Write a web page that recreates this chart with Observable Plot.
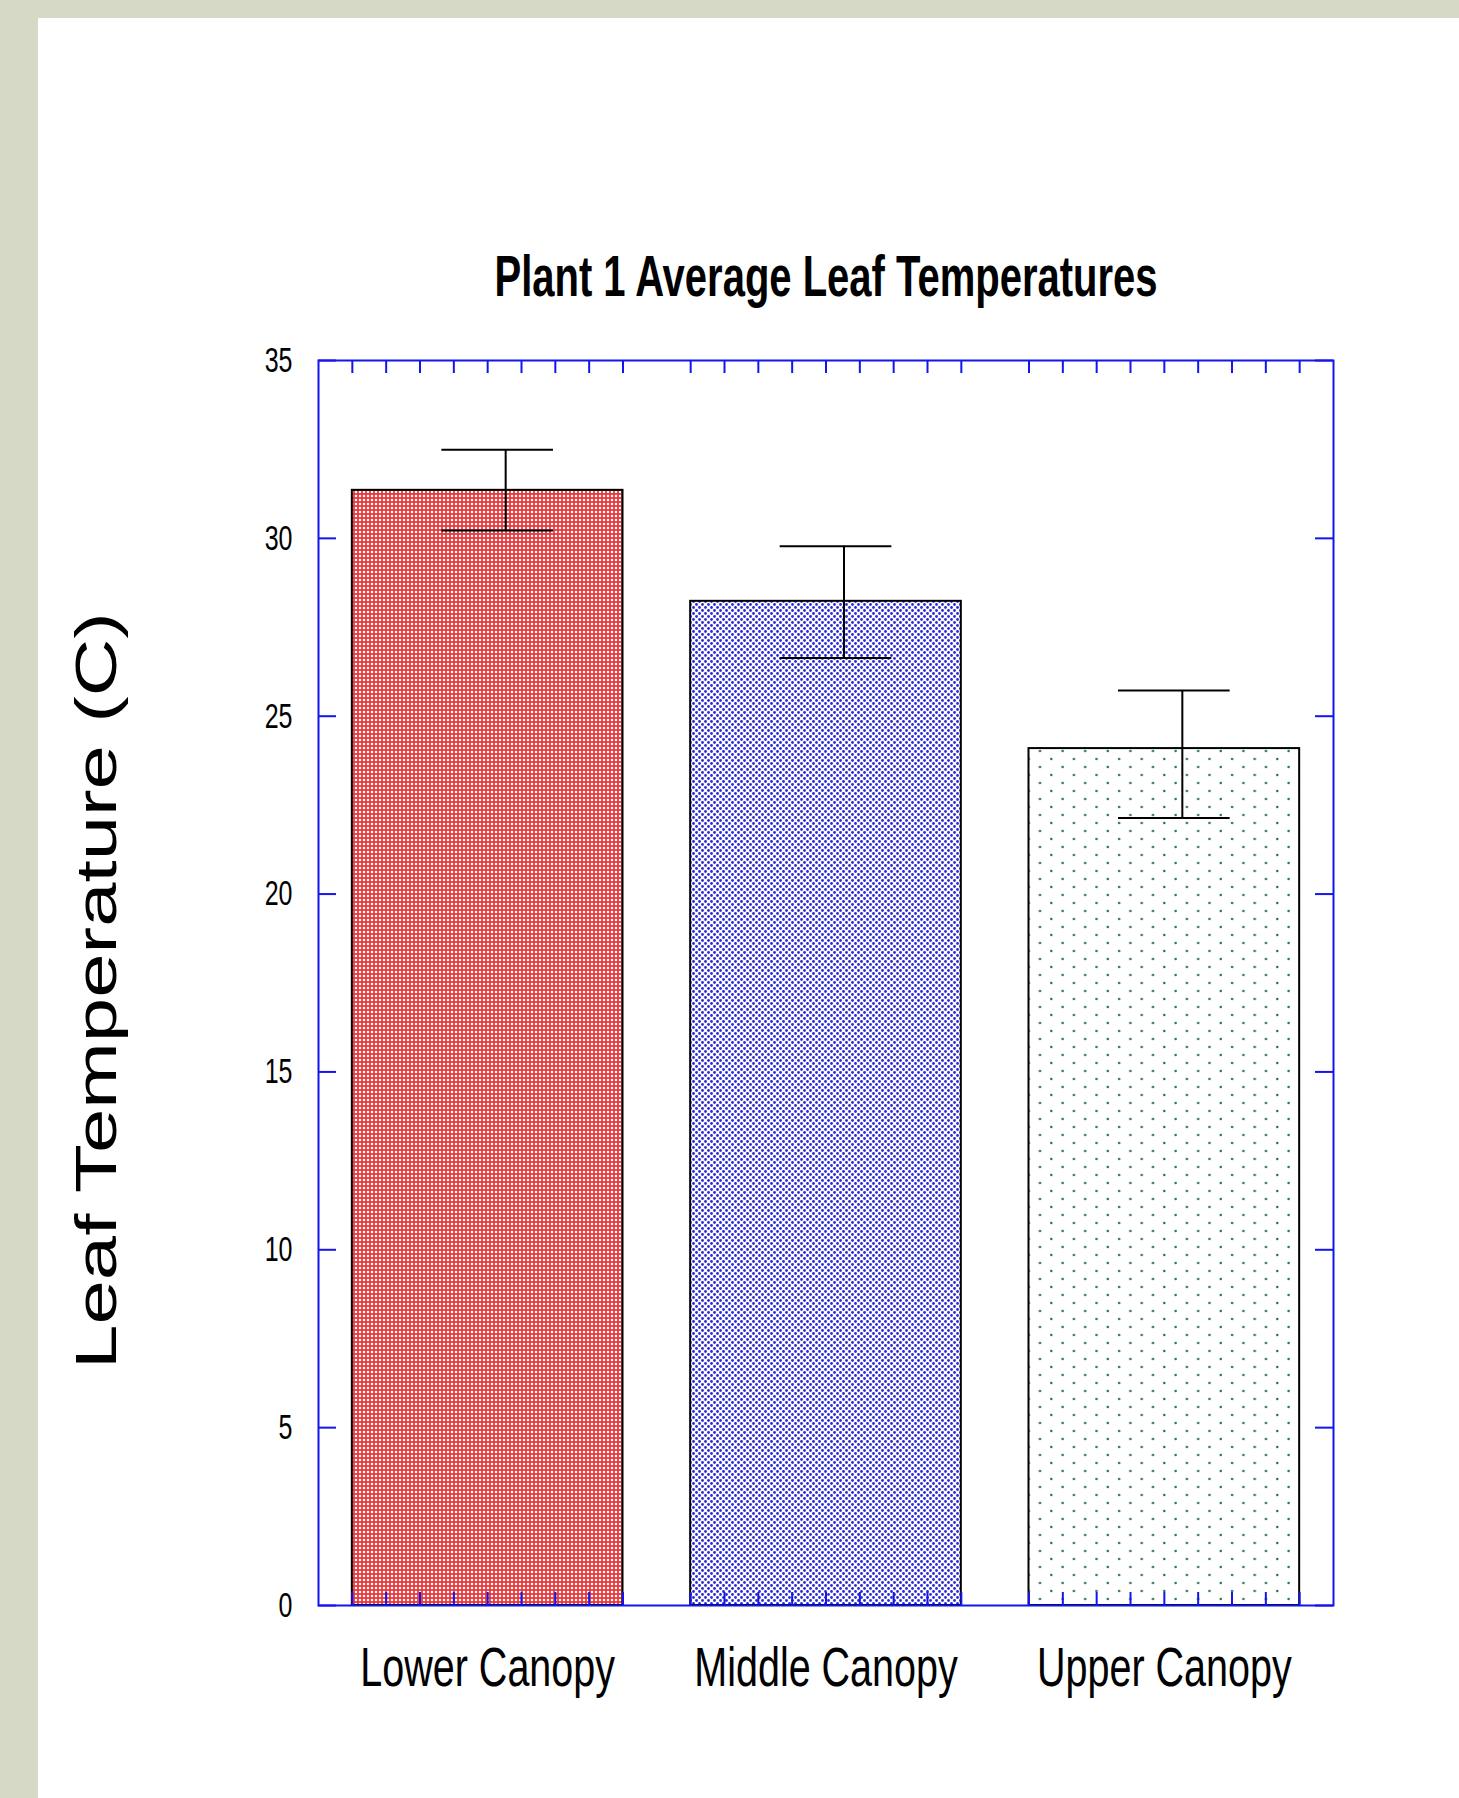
<!DOCTYPE html>
<html><head><meta charset="utf-8">
<script src="https://cdn.jsdelivr.net/npm/d3@7"></script>
<script src="https://cdn.jsdelivr.net/npm/@observablehq/plot@0.6"></script>
<style>
html,body{margin:0;padding:0;background:#d6d9c6;}
#panel{position:absolute;left:38px;top:18px;width:1421px;height:1780px;background:#fff;overflow:hidden;}
#panel svg{display:block;}
</style></head><body><div id="panel"></div>
<script>
// ---- data ----
const title = "Plant 1 Average Leaf Temperatures";
const yLabel = "Leaf Temperature (C)";
const categories = ["Lower Canopy", "Middle Canopy", "Upper Canopy"];
const means = [31.35, 28.23, 24.09];
const errHigh = [32.49, 29.78, 25.72];
const errLow = [30.22, 26.64, 22.14];
const yTicks = [0, 5, 10, 15, 20, 25, 30, 35];

// ---- layout & style ----
const W = 1421, H = 1780, mL = 280, mR = 126, mT = 342, mB = 193;
const plotW = W - mL - mR, plotH = H - mT - mB;
const barHalf = 0.4, minorPerBar = 8, capHalf = 0.165;
const frameBlue = "#1414ee";
const stretch = 1.42;
const fills = {"Lower Canopy": "url(#patRed)", "Middle Canopy": "url(#patBlue)", "Upper Canopy": "url(#patGreen)"};

const data = categories.map((c, i) => ({i, cat: c, mean: means[i], hi: errHigh[i], lo: errLow[i]}));
const minorTicks = data.flatMap(d => d3.range(minorPerBar + 1).map(k => d.i - barHalf + k * (2 * barHalf / minorPerBar)));

const chart = Plot.plot({
  width: W, height: H,
  marginLeft: mL, marginRight: mR, marginTop: mT, marginBottom: mB,
  x: {type: "linear", domain: [-0.5, 2.5], axis: null},
  y: {domain: [0, 35], axis: null},
  color: {type: "identity"},
  style: {fontFamily: "'Liberation Sans', Arial, sans-serif", background: "transparent", color: "black"},
  marks: [
    Plot.rect(data, {x1: d => d.i - barHalf, x2: d => d.i + barHalf, y1: 0, y2: "mean", fill: d => fills[d.cat], stroke: "black", strokeWidth: 2}),
    Plot.ruleX(data, {x: "i", y1: "lo", y2: "hi", dx: 18, stroke: "black", strokeWidth: 2}),
    Plot.ruleY(data, {y: "hi", x1: d => d.i - capHalf, x2: d => d.i + capHalf, dx: 10, stroke: "black", strokeWidth: 2}),
    Plot.ruleY(data, {y: "lo", x1: d => d.i - capHalf, x2: d => d.i + capHalf, dx: 10, stroke: "black", strokeWidth: 2}),
    Plot.tickX(minorTicks, {x: d => d, stroke: frameBlue, strokeWidth: 2, insetBottom: plotH - 13}),
    Plot.tickX(minorTicks, {x: d => d, stroke: frameBlue, strokeWidth: 2, insetTop: plotH - 13}),
    Plot.tickY(yTicks, {y: d => d, stroke: frameBlue, strokeWidth: 2, insetRight: plotW - 18}),
    Plot.tickY(yTicks, {y: d => d, stroke: frameBlue, strokeWidth: 2, insetLeft: plotW - 18}),
    Plot.frame({stroke: frameBlue, strokeWidth: 2}),
    // text marks (in this order: y tick labels, x labels, title, y label)
    Plot.text(yTicks, {y: d => d, text: d => String(d), frameAnchor: "left", dx: -26, textAnchor: "end", lineAnchor: "middle", fontSize: 25, fill: "black"}),
    Plot.text(data, {x: "i", text: "cat", frameAnchor: "bottom", dy: 63, lineAnchor: "middle", fontSize: 39.5, fill: "black"}),
    Plot.text([title], {text: d => d, frameAnchor: "top", dy: -83, lineAnchor: "middle", fontSize: 40, fontWeight: "bold", fill: "black"}),
    Plot.text([yLabel], {text: d => d, frameAnchor: "left", dx: -221, dy: 7.5, lineAnchor: "middle", textAnchor: "middle", fontSize: 57, fill: "black"})
  ]
});

document.getElementById("panel").appendChild(chart);

// ---- patterns ----
const svg = d3.select(chart);
const defs = svg.insert("defs", ":first-child");
const pr = defs.append("pattern").attr("id", "patRed").attr("patternUnits", "userSpaceOnUse").attr("width", 4).attr("height", 4);
pr.append("rect").attr("width", 4).attr("height", 4).attr("fill", "#e63a3e");
pr.append("rect").attr("x", 0.9).attr("y", 0.9).attr("width", 2.2).attr("height", 2.2).attr("fill", "#ffffff");
const pb = defs.append("pattern").attr("id", "patBlue").attr("patternUnits", "userSpaceOnUse").attr("width", 6).attr("height", 6);
pb.append("rect").attr("width", 6).attr("height", 6).attr("fill", "#ffffff");
pb.append("circle").attr("cx", 1.5).attr("cy", 1.5).attr("r", 1.4).attr("fill", "#2a2ad8");
pb.append("circle").attr("cx", 4.5).attr("cy", 4.5).attr("r", 1.4).attr("fill", "#2a2ad8");
const pg = defs.append("pattern").attr("id", "patGreen").attr("patternUnits", "userSpaceOnUse").attr("width", 22.6).attr("height", 16);
pg.append("rect").attr("width", 22.6).attr("height", 16).attr("fill", "#ffffff");
pg.append("circle").attr("cx", 7.6).attr("cy", 13).attr("r", 1.3).attr("fill", "#2c7a4a");
pg.append("circle").attr("cx", 18.9).attr("cy", 5).attr("r", 1.3).attr("fill", "#2c7a4a");

// ---- text stretching (the reference is vertically stretched) ----
function addTransform(sel, extra) {
  sel.each(function () {
    const t = d3.select(this);
    const num = v => v != null && /^-?[\d.]+(e-?\d+)?$/.test(String(v).trim());
    const xa = t.attr("x"), ya = t.attr("y");
    let tx = 0, ty = 0;
    if (num(xa)) { tx = +xa; t.attr("x", null); }
    if (num(ya)) { ty = +ya; t.attr("y", null); }
    const tr = t.attr("transform") || "";
    t.attr("transform", `${tr} translate(${tx},${ty}) ${extra}`);
  });
}
const textGroups = svg.selectAll('g[aria-label="text"]').nodes();
[0, 1, 2].forEach(k => { if (textGroups[k]) addTransform(d3.select(textGroups[k]).selectAll("text"), `scale(1,${stretch})`); });
if (textGroups[3]) addTransform(d3.select(textGroups[3]).selectAll("text"), `rotate(-90) scale(1.4,1)`);
</script>
</body></html>
